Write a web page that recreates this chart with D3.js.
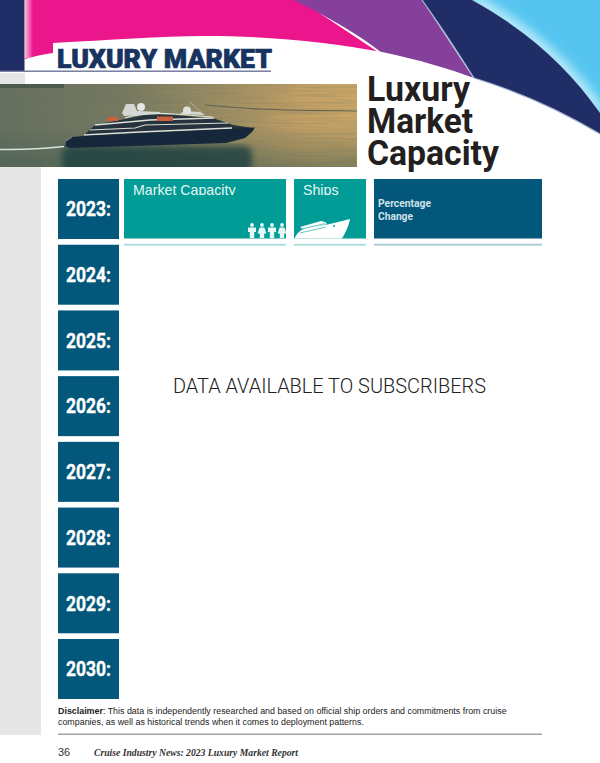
<!DOCTYPE html>
<html>
<head>
<meta charset="utf-8">
<script src="https://cdn.jsdelivr.net/npm/d3@7"></script>
<style>
  html, body { margin: 0; padding: 0; background: #fff; }
  svg { display: block; }
</style>
</head>
<body>
<svg id="page" width="600" height="763"></svg>
<script>
const years = ["2023:", "2024:", "2025:", "2026:", "2027:", "2028:", "2029:", "2030:"];
const headers = ["Market Capacity", "Ships", "Percentage Change"];
const titleLines = ["Luxury", "Market", "Capacity"];
const sectionLabel = "LUXURY MARKET";
const notice = "DATA AVAILABLE TO SUBSCRIBERS";
const disclaimer = [
  ": This data is independently researched and based on official ship orders and commitments from cruise",
  "companies, as well as historical trends when it comes to deployment patterns."
];
const pageNumber = "36";
const footerTitle = "Cruise Industry News: 2023 Luxury Market Report";

const BLUE = "#02577a", TEAL = "#019c95", NAVY = "#212d66";
const svg = d3.select("#page");
const defs = svg.append("defs");
const curved = d3.line().curve(d3.curveCatmullRom.alpha(0.5));

// Page furniture
svg.append("rect").attr("x", 0).attr("y", 73).attr("width", 41).attr("height", 662).attr("fill", "#e6e6e6");

// Header swoosh
const header = svg.append("g");
defs.append("filter").attr("id", "glow").append("feGaussianBlur").attr("stdDeviation", 5);
defs.append("clipPath").attr("id", "skyClip").append("path")
  .attr("d", "M472,0 L600,0 L600,113 C570,70 530,32 472,0 Z");

header.append("path").attr("fill", "#55c5f0").attr("d", "M472,0 L600,0 L600,113 C570,70 530,32 472,0 Z");
header.append("path").attr("clip-path", "url(#skyClip)").attr("fill", "none")
  .attr("stroke", "#b4e8f9").attr("stroke-width", 14).attr("filter", "url(#glow)")
  .attr("d", "M472,0 C530,32 570,70 600,113");
header.append("path").attr("fill", "#ec168c")
  .attr("d", "M25,0 L300,0 L390,60 L25,60 Z");
header.append("path").attr("fill", "#84409a")
  .attr("d", "M294,0 C330,18 358,34 382,53 L474,79 L422,0 Z");
header.append("path").attr("fill", NAVY)
  .attr("d", "M422,0 L472,0 C530,32 570,70 600,113 L600,134 C560,110 520,92 474,78 C455,48 440,25 422,0 Z");
header.append("path").attr("fill", "none").attr("stroke", "#9fb0cc").attr("stroke-width", 1.2)
  .attr("d", "M422,0 C440,25 455,48 474,78 C520,92 560,110 600,134");
// white sweep below the colour bands
header.append("path").attr("fill", "#fff")
  .attr("d", "M25,59 C35,56 45,54 53,53 L53,43 C110,40 160,36 205,36 C270,36 330,42 382,52 C420,60 450,69 474,78 L474,84 L25,84 Z");
const pinkEdge = defs.append("linearGradient").attr("id", "pinkEdge");
pinkEdge.append("stop").attr("offset", "0%").attr("stop-color", "#fff").attr("stop-opacity", 0.7);
pinkEdge.append("stop").attr("offset", "100%").attr("stop-color", "#fff").attr("stop-opacity", 0);
header.append("rect").attr("x", 25).attr("y", 0).attr("width", 8).attr("height", 58).attr("fill", "url(#pinkEdge)");
header.append("rect").attr("x", 0).attr("y", 0).attr("width", 24.5).attr("height", 71).attr("fill", NAVY);
header.append("rect").attr("x", 0).attr("y", 70.5).attr("width", 271).attr("height", 1.4).attr("fill", "#6d7499");

header.append("text").text(sectionLabel)
  .attr("x", 57).attr("y", 67.5)
  .attr("textLength", 215).attr("lengthAdjust", "spacingAndGlyphs")
  .attr("font-family", "Roboto").attr("font-weight", 900).attr("font-size", 25)
  .attr("fill", "#17335f").attr("stroke", "#17335f").attr("stroke-width", 0.7);

// Title
const titleWidth = d3.scaleOrdinal().domain(titleLines).range([103, 106, 132]);
const titleY = d3.scalePoint().domain(titleLines).range([101, 165]);
svg.append("g").selectAll("text").data(titleLines).join("text")
  .text(d => d)
  .attr("x", 367).attr("y", d => titleY(d))
  .attr("textLength", d => titleWidth(d)).attr("lengthAdjust", "spacingAndGlyphs")
  .attr("font-family", "Roboto").attr("font-weight", 700).attr("font-size", 35).attr("fill", "#231f20");

// Photo
const seaGrad = defs.append("linearGradient").attr("id", "sea").attr("x1", 0).attr("y1", 0).attr("x2", 1).attr("y2", 0);
[["0%", "#66705f"], ["35%", "#777a60"], ["60%", "#9c8d62"], ["85%", "#c4a064"], ["100%", "#cca766"]]
  .forEach(s => seaGrad.append("stop").attr("offset", s[0]).attr("stop-color", s[1]));
const seaShade = defs.append("linearGradient").attr("id", "seaShade").attr("x1", 0).attr("y1", 0).attr("x2", 0).attr("y2", 1);
seaShade.append("stop").attr("offset", "50%").attr("stop-color", "#3c5a50").attr("stop-opacity", 0);
seaShade.append("stop").attr("offset", "100%").attr("stop-color", "#3c5a50").attr("stop-opacity", 0.5);
defs.append("filter").attr("id", "soft").append("feGaussianBlur").attr("stdDeviation", 0.4);
defs.append("filter").attr("id", "softer").append("feGaussianBlur").attr("stdDeviation", 3);
defs.append("clipPath").attr("id", "photoClip").append("rect")
  .attr("x", 0).attr("y", 84).attr("width", 357).attr("height", 83);
const ripple = defs.append("filter").attr("id", "ripple").attr("x", 0).attr("y", 0).attr("width", 1).attr("height", 1);
ripple.append("feTurbulence").attr("type", "fractalNoise").attr("baseFrequency", "0.015 0.45").attr("numOctaves", 2).attr("seed", 4);
ripple.append("feColorMatrix").attr("type", "matrix")
  .attr("values", "0 0 0 0 0.12  0 0 0 0 0.16  0 0 0 0 0.12  1.4 0 0 0 -0.45");

const photo = svg.append("g").attr("clip-path", "url(#photoClip)");
photo.append("rect").attr("x", 0).attr("y", 84).attr("width", 357).attr("height", 83).attr("fill", "url(#sea)");
photo.append("rect").attr("x", 0).attr("y", 84).attr("width", 357).attr("height", 83).attr("fill", "url(#seaShade)");
photo.append("rect").attr("x", 0).attr("y", 84).attr("width", 357).attr("height", 83).attr("filter", "url(#ripple)").attr("opacity", 0.35);
photo.append("rect").attr("x", 62).attr("y", 146).attr("width", 190).attr("height", 26).attr("rx", 8)
  .attr("fill", "#1f3f40").attr("opacity", 0.8).attr("filter", "url(#softer)");
const ship = photo.append("g").attr("filter", "url(#soft)");
ship.append("rect").attr("x", 0).attr("y", 84).attr("width", 64).attr("height", 4).attr("fill", "#4c5a50");
ship.append("path").attr("fill", "none").attr("stroke", "#5c6151").attr("stroke-width", 1.1)
  .attr("d", curved([[205, 105], [260, 109], [357, 111]]));
ship.append("path").attr("fill", "none").attr("stroke", "#d8e2dc").attr("stroke-width", 1.6)
  .attr("d", curved([[0, 149.5], [30, 149], [64, 146.5]]));
// superstructure, dark body with pale deck stripes
ship.append("path").attr("fill", "#26333c")
  .attr("d", "M82,137 L95,125 L130,118 L150,114 L173,115 L213,118 L233,125 L253,128 L230,134 Z");
const deckLines = ship.append("g").attr("fill", "none").attr("stroke", "#dcdfd8");
deckLines.append("path").attr("stroke-width", 1.5).attr("d", "M84,135 L140,132 L232,128");
deckLines.append("path").attr("stroke-width", 1.2).attr("d", "M90,130 L135,128 L145,125 L228,123");
deckLines.append("path").attr("stroke-width", 1.4).attr("d", "M95,125 L128,122 L150,120 L214,118");
deckLines.append("path").attr("stroke-width", 1.2).attr("d", "M125,118 C140,113 160,113 175,114 L212,117");
ship.append("rect").attr("x", 107).attr("y", 117).attr("width", 11).attr("height", 4).attr("fill", "#c9603a");
ship.append("rect").attr("x", 157).attr("y", 116.5).attr("width", 16).attr("height", 4.5).attr("fill", "#c9603a");
ship.append("path").attr("fill", "#d4d7d3").attr("d", "M122,113 L126,104 L134,104 L137,111 L160,112 L160,114 L124,116 Z");
ship.append("path").attr("fill", "#d4d7d3").attr("d", "M180,114 L184,111 L200,112 L205,115 Z");
ship.append("circle").attr("cx", 141).attr("cy", 107).attr("r", 4).attr("fill", "#e6e6e2");
ship.append("circle").attr("cx", 187).attr("cy", 110.5).attr("r", 4).attr("fill", "#dfe1de");
ship.append("path").attr("fill", "none").attr("stroke", "#b9bdb9").attr("stroke-width", 0.8).attr("d", "M190,102 L203,114");
// hull
ship.append("path").attr("fill", "#15283a")
  .attr("d", "M66,141 L72,137 L84,136 L232,129 L255,127.5 L252,132 L245,138 L226,143 L70,148 L65.5,146 Z");
ship.append("path").attr("fill", "none").attr("stroke", "#8da2ab").attr("stroke-width", 0.8).attr("d", "M66,141 L72,137");

// Year blocks
const yScale = d3.scaleBand().domain(years).range([179, 699]).paddingInner(0.087);
const yearBlocks = svg.append("g").selectAll("g").data(years).join("g")
  .attr("transform", d => `translate(58,${yScale(d)})`);
yearBlocks.append("rect")
  .attr("width", 61).attr("height", yScale.bandwidth()).attr("fill", BLUE);
yearBlocks.append("text").text(d => d)
  .attr("x", 8).attr("y", 37.3)
  .attr("textLength", 45).attr("lengthAdjust", "spacingAndGlyphs")
  .attr("font-family", "Roboto").attr("font-weight", 700).attr("font-size", 20)
  .attr("fill", "#fff").attr("stroke", "#fff").attr("stroke-width", 0.35);

// Column headers for the first row
const colX = d3.scaleOrdinal().domain(headers).range([124, 294, 374]);
const colW = d3.scaleOrdinal().domain(headers).range([162, 72, 168]);
const colFill = d3.scaleOrdinal().domain(headers).range([TEAL, TEAL, BLUE]);
const top0 = yScale(years[0]);

defs.append("clipPath").attr("id", "headClip").append("rect")
  .attr("x", 120).attr("y", 179).attr("width", 425).attr("height", 16);

const cols = svg.append("g").selectAll("g").data(headers).join("g")
  .attr("transform", d => `translate(${colX(d)},${top0})`);
cols.append("rect").attr("width", d => colW(d)).attr("height", 59.5).attr("fill", d => colFill(d));
cols.append("rect").attr("y", 64.8).attr("width", d => colW(d)).attr("height", 1.8)
  .attr("fill", d => d === headers[2] ? "#a9cbd3" : "#a8dcd8");

const tealHeads = svg.append("g").attr("clip-path", "url(#headClip)");
tealHeads.selectAll("text").data(headers.slice(0, 2)).join("text")
  .text(d => d)
  .attr("x", d => colX(d) + 9).attr("y", 194.5)
  .attr("font-family", "Liberation Sans").attr("font-size", 14.2).attr("fill", "#e6f6f4");

svg.append("g").selectAll("text").data(headers[2].split(" ")).join("text")
  .text(d => d)
  .attr("x", 378).attr("y", (d, i) => 206.8 + i * 12.7)
  .attr("font-family", "Roboto").attr("font-weight", 700).attr("font-size", 11.5)
  .attr("textLength", d => d === "Percentage" ? 53 : 35).attr("lengthAdjust", "spacingAndGlyphs")
  .attr("fill", "#cfe2e8");

// People icon
const people = d3.range(4);
const icons = svg.append("g").attr("fill", "#e8f7f5");
const personX = d3.scaleLinear().domain([0, 3]).range([252, 282]);
people.forEach(i => {
  const g = icons.append("g").attr("transform", `translate(${personX(i)},223)`);
  g.append("circle").attr("cx", 0).attr("cy", 2).attr("r", 1.9);
  g.append("path").attr("d", i % 2 === 0
    ? "M-4,4.5 L4,4.5 L4,9 L2.2,9 L2.2,15 L-2.2,15 L-2.2,9 L-4,9 Z"
    : "M-2.4,4.5 L2.4,4.5 L4.4,10.5 L2.2,10.5 L2.2,15 L-2.2,15 L-2.2,10.5 L-4.4,10.5 Z");
});

// Ship icon
const shipIcon = svg.append("g").attr("fill", "#fff");
shipIcon.append("path").attr("d", "M294.5,238.5 C297,233 300,231 303,229 L330,224 C338,222 345,220 350,219 C349,225 346,232 342,238.5 Z");
shipIcon.append("path").attr("d", "M300,227 L321,221 L325,222 L327,224 L304,230 Z");
shipIcon.append("circle").attr("cx", 334).attr("cy", 226).attr("r", 1).attr("fill", TEAL);
shipIcon.append("path").attr("fill", "none").attr("stroke", TEAL).attr("stroke-width", 0.6).attr("d", "M302,229 L325,223.5 M300,233 L326,227");

// Notice
svg.append("text").text(notice)
  .attr("x", 173).attr("y", 393)
  .attr("textLength", 313).attr("lengthAdjust", "spacingAndGlyphs")
  .attr("font-family", "Roboto").attr("font-weight", 300).attr("font-size", 20).attr("fill", "#222");

// Disclaimer
const dis = svg.append("g").attr("font-family", "Liberation Sans").attr("font-size", 8.9).attr("fill", "#222");
const first = dis.append("text").attr("x", 58).attr("y", 714);
first.append("tspan").attr("font-weight", 700).text("Disclaimer");
first.append("tspan").text(disclaimer[0]);
dis.append("text").attr("x", 58).attr("y", 725).text(disclaimer[1]);

// Footer
svg.append("rect").attr("x", 58).attr("y", 733.6).attr("width", 484).attr("height", 1.2).attr("fill", "#8a8a8a");
svg.append("text").text(pageNumber).attr("x", 58).attr("y", 756)
  .attr("font-family", "Liberation Sans").attr("font-size", 11).attr("fill", "#333");
svg.append("text").text(footerTitle).attr("x", 94).attr("y", 756)
  .attr("textLength", 204).attr("lengthAdjust", "spacingAndGlyphs")
  .attr("font-family", "Liberation Serif").attr("font-style", "italic").attr("font-weight", 700)
  .attr("font-size", 10.5).attr("fill", "#333");
</script>
</body>
</html>
